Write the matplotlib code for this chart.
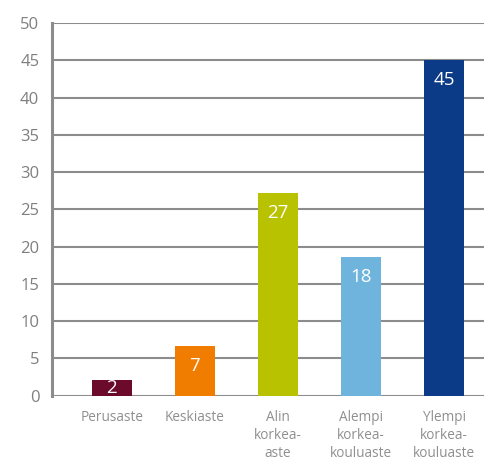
import matplotlib
matplotlib.use('Agg')
import matplotlib.pyplot as plt

categories = ['Perusaste', 'Keskiaste', 'Alin\nkorkea-\naste', 'Alempi\nkorkea-\nkouluaste', 'Ylempi\nkorkea-\nkouluaste']
values = [2.1, 6.7, 27.2, 18.6, 45.1]
labels = ['2', '7', '27', '18', '45']
colors = ['#6b0a2a', '#f07c00', '#b9c200', '#6fb4dd', '#0b3a86']
yticks = [0, 5, 10, 15, 20, 25, 30, 35, 40, 45, 50]

plt.rcParams['font.family'] = ['Open Sans', 'DejaVu Sans']

fig = plt.figure(figsize=(4.84, 4.62), dpi=100)
ax = fig.add_axes([0.107, 0.1435, 0.893, 0.8065])

x = range(len(categories))
ax.bar(x, values, width=0.48, color=colors, zorder=3)

for i, v in enumerate(values):
    ax.text(i, max(v - 2.7, v / 2), labels[i], ha='center', va='center',
            color='white', fontsize=13.5, zorder=4)

ax.set_ylim(0, 50)
ax.set_xlim(-0.72, 4.48)
ax.set_yticks(yticks)
ax.set_xticks(list(x))
ax.set_xticklabels(categories, fontsize=9.8, color='#8f8f8f', linespacing=1.3)
ax.tick_params(axis='y', labelsize=12, labelcolor='#7f7f7f', length=0, pad=9)
ax.tick_params(axis='x', length=0, pad=10)

ax.grid(axis='y', color='#8c8c8c', linewidth=1.5, zorder=0)
for s in ['top', 'right', 'bottom']:
    ax.spines[s].set_visible(False)
ax.spines['left'].set_color('#8c8c8c')
ax.spines['left'].set_linewidth(2.2)

plt.savefig('out.png', dpi=100)
